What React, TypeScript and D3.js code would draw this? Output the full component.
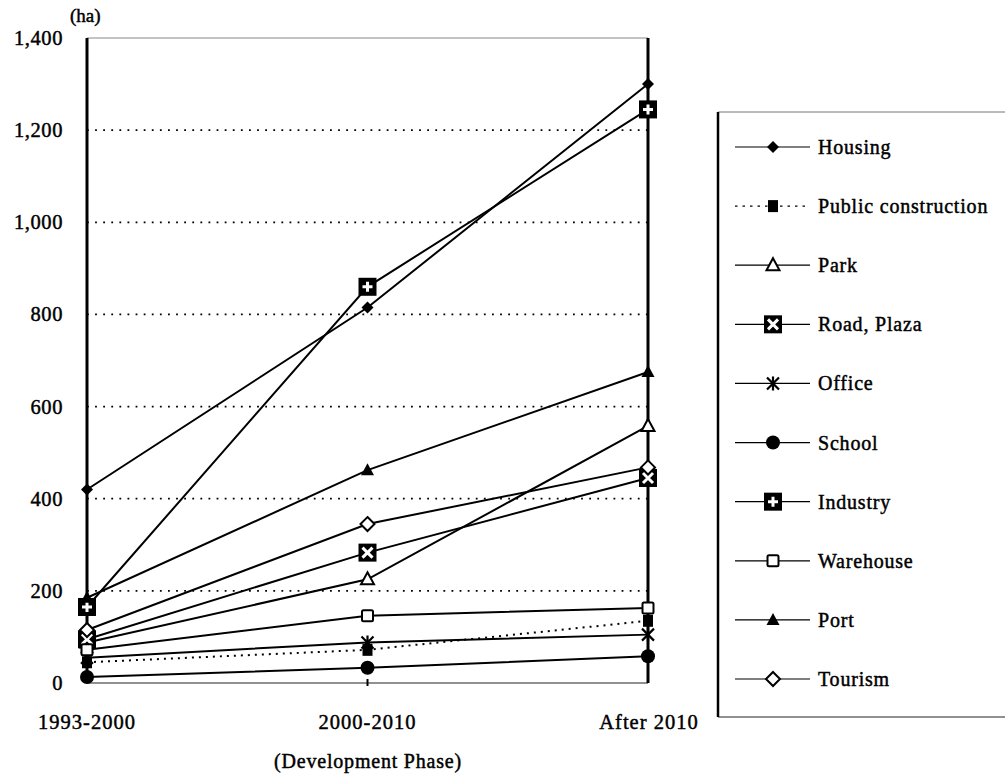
import React from "react";
import * as d3 from "d3";

const phases = ["1993-2000", "2000-2010", "After 2010"];
const yTicks = [0, 200, 400, 600, 800, 1000, 1200, 1400];

const seriesNames = ["Housing", "Public construction", "Park", "Road, Plaza", "Office", "School", "Industry", "Warehouse", "Port", "Tourism"];
const housing = [420, 815, 1300];
const publicConstruction = [45, 72, 135];
const park = [88, 225, 558];
const roadPlaza = [95, 283, 445];
const office = [55, 88, 105];
const school = [13, 33, 58];
const industry = [165, 860, 1245];
const warehouse = [72, 146, 163];
const port = [185, 462, 675];
const tourism = [115, 345, 468];

const seriesValues = [housing, publicConstruction, park, roadPlaza, office, school, industry, warehouse, port, tourism];
const markerTypes = ["diamondFilled", "squareFilled", "triangleOpen", "squareX", "asterisk", "circleFilled", "squarePlus", "squareOpen", "triangleFilled", "diamondOpen"];
const dotted = [false, true, false, false, false, false, false, false, false, false];

const FONT = "'Liberation Serif', 'Times New Roman', serif";
const textStyle = { stroke: "#000", strokeWidth: 0.45 } as const;

function Marker({ type, x, y }: { type: string; x: number; y: number }) {
  switch (type) {
    case "diamondFilled":
      return <path d={`M${x},${y - 6}L${x + 6},${y}L${x},${y + 6}L${x - 6},${y}Z`} fill="#000" />;
    case "squareFilled":
      return <rect x={x - 5} y={y - 6} width={10} height={12} fill="#000" />;
    case "triangleOpen":
      return <path d={`M${x},${y - 7}L${x + 6.5},${y + 5}L${x - 6.5},${y + 5}Z`} fill="#fff" stroke="#000" strokeWidth={2} />;
    case "squareX":
      return (
        <g>
          <rect x={x - 9} y={y - 9} width={18} height={18} fill="#000" />
          <path d={`M${x - 5},${y - 5}L${x + 5},${y + 5}M${x + 5},${y - 5}L${x - 5},${y + 5}`} stroke="#fff" strokeWidth={3} />
        </g>
      );
    case "asterisk":
      return <path d={`M${x - 6},${y - 6}L${x + 6},${y + 6}M${x + 6},${y - 6}L${x - 6},${y + 6}M${x},${y - 7}L${x},${y + 7}`} stroke="#000" strokeWidth={2.2} />;
    case "circleFilled":
      return <circle cx={x} cy={y} r={7} fill="#000" />;
    case "squarePlus":
      return (
        <g>
          <rect x={x - 9} y={y - 9} width={18} height={18} fill="#000" />
          <path d={`M${x - 5},${y}L${x + 5},${y}M${x},${y - 5}L${x},${y + 5}`} stroke="#fff" strokeWidth={3} />
        </g>
      );
    case "squareOpen":
      return <rect x={x - 5.5} y={y - 5.5} width={11} height={11} rx={1.5} fill="#fff" stroke="#000" strokeWidth={2} />;
    case "triangleFilled":
      return <path d={`M${x},${y - 7}L${x + 6.5},${y + 5}L${x - 6.5},${y + 5}Z`} fill="#000" />;
    case "diamondOpen":
      return <path d={`M${x},${y - 7}L${x + 7},${y}L${x},${y + 7}L${x - 7},${y}Z`} fill="#fff" stroke="#000" strokeWidth={2} />;
    default:
      return null;
  }
}

export default function App() {
  const x = d3.scalePoint<string>().domain(phases).range([87, 648]);
  const y = d3.scaleLinear().domain([0, 1400]).range([683, 38]);
  const line = d3
    .line<number>()
    .x((_, i) => x(phases[i]) as number)
    .y((d) => y(d));

  const legendY = d3.scalePoint<string>().domain(seriesNames).range([147, 679]);
  const xl = x(phases[0]) as number;
  const xr = x(phases[2]) as number;

  return (
    <svg width={1005} height={775} style={{ position: "absolute", left: 0, top: 0, background: "#fff" }} fontFamily={FONT}>
      {/* gridlines */}
      {yTicks.filter((t) => t > 0 && t < 1400).map((t) => (
        <line key={t} x1={xl} x2={xr} y1={y(t)} y2={y(t)} stroke="#000" strokeWidth={1.8} strokeDasharray="1.8,6.3" />
      ))}
      <line x1={xl} x2={xr} y1={y(1400)} y2={y(1400)} stroke="#888" strokeWidth={1} />
      <line x1={xl} x2={xr} y1={y(0)} y2={y(0)} stroke="#222" strokeWidth={1.2} />
      <line x1={xl} x2={xl} y1={y(1400)} y2={y(0)} stroke="#000" strokeWidth={3} />
      <line x1={xr} x2={xr} y1={y(1400)} y2={y(0)} stroke="#000" strokeWidth={3} />
      <line x1={x(phases[1])} x2={x(phases[1])} y1={y(0) - 4} y2={y(0) + 3} stroke="#000" strokeWidth={2} />

      {/* y tick labels */}
      {yTicks.map((t) => (
        <text key={t} x={63} y={y(t) + 7} textAnchor="end" fontSize={20.5} letterSpacing={0.6} {...textStyle}>
          {d3.format(",")(t)}
        </text>
      ))}
      <text x={70} y={22} fontSize={19} {...textStyle}>(ha)</text>

      {/* x labels */}
      {phases.map((p, i) => (
        <text key={p} x={(x(p) as number) + (i === 2 ? 1 : 0)} y={729} textAnchor="middle" fontSize={20.5} letterSpacing={1} {...textStyle}>
          {p}
        </text>
      ))}
      <text x={462} y={768} textAnchor="end" fontSize={20} letterSpacing={0.8} {...textStyle}>
        (Development Phase)
      </text>

      {/* series lines */}
      {seriesValues.map((vals, si) => (
        <path key={si} d={line(vals) || ""} fill="none" stroke="#000" strokeWidth={2} strokeDasharray={dotted[si] ? "2,5" : undefined} />
      ))}
      {/* markers */}
      {seriesValues.map((vals, si) =>
        vals.map((v, i) => <Marker key={`${si}-${i}`} type={markerTypes[si]} x={x(phases[i]) as number} y={y(v)} />)
      )}

      {/* legend */}
      <line x1={718} x2={1005} y1={112} y2={112} stroke="#777" strokeWidth={1} />
      <line x1={718} x2={1005} y1={717} y2={717} stroke="#222" strokeWidth={1.2} />
      <line x1={718} x2={718} y1={112} y2={717} stroke="#000" strokeWidth={2.5} />
      {seriesNames.map((name, si) => {
        const ly = legendY(name) as number;
        return (
          <g key={name}>
            <line x1={735} x2={810} y1={ly} y2={ly} stroke="#000" strokeWidth={1.2} strokeDasharray={dotted[si] ? "2.5,5" : undefined} />
            <Marker type={markerTypes[si]} x={773} y={ly} />
            <text x={818} y={ly + 7} fontSize={20} letterSpacing={0.8} {...textStyle}>
              {name}
            </text>
          </g>
        );
      })}
    </svg>
  );
}
